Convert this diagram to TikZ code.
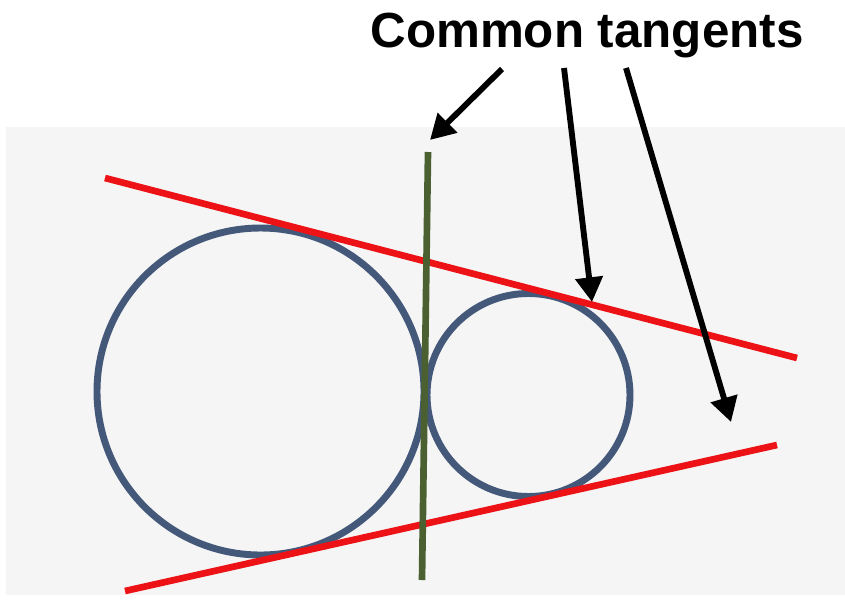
\documentclass[tikz,border=0pt]{standalone}
\usepackage{fontspec}
\setmainfont{Liberation Sans}
\usetikzlibrary{arrows.meta}
\definecolor{bggray}{RGB}{245,245,245}
\definecolor{circblue}{RGB}{68,88,122}
\definecolor{tanred}{RGB}{236,18,22}
\definecolor{tangreen}{RGB}{74,96,48}
\tikzset{
  circ/.style={draw=circblue, line width=5.2pt},
  redtan/.style={draw=tanred, line width=5pt},
  greentan/.style={draw=tangreen, line width=5pt},
  pointer/.style={draw=black, line width=4.4pt, -{Triangle[length=18.5pt,width=20pt]}},
}
\begin{document}
\begin{tikzpicture}[x=0.75pt,y=-0.75pt]
\useasboundingbox (0,0) rectangle (845,600);
\fill[bggray] (6,127) rectangle (845,595);
% circles
\node[circ, circle, minimum size=327*0.75pt, inner sep=0pt] (big) at (260.5,391.5) {};
\node[circ, circle, minimum size=203*0.75pt, inner sep=0pt] (small) at (528.5,395) {};
% tangents
\coordinate (t1a) at (105,178);
\coordinate (t1b) at (797,358);
\coordinate (t2a) at (125,591);
\coordinate (t2b) at (777,445);
\coordinate (g1) at (428,152);
\coordinate (g2) at (422,580);
\draw[redtan] (t1a) -- (t1b);
\draw[redtan] (t2a) -- (t2b);
\draw[greentan] (g1) -- (g2);
% title
\node[font=\bfseries\fontsize{37}{44}\selectfont, anchor=base, inner sep=0pt] (title) at (587,47) {Common tangents};
\coordinate (s1) at (502,69);
\coordinate (e1) at (430,140);
\coordinate (s2) at (564,68);
\coordinate (e2) at (592,302);
\coordinate (s3) at (626,68);
\coordinate (e3) at (731,422);
\draw[pointer] (s1) -- (e1);
\draw[pointer] (s2) -- (e2);
\draw[pointer] (s3) -- (e3);
\end{tikzpicture}
\end{document}
